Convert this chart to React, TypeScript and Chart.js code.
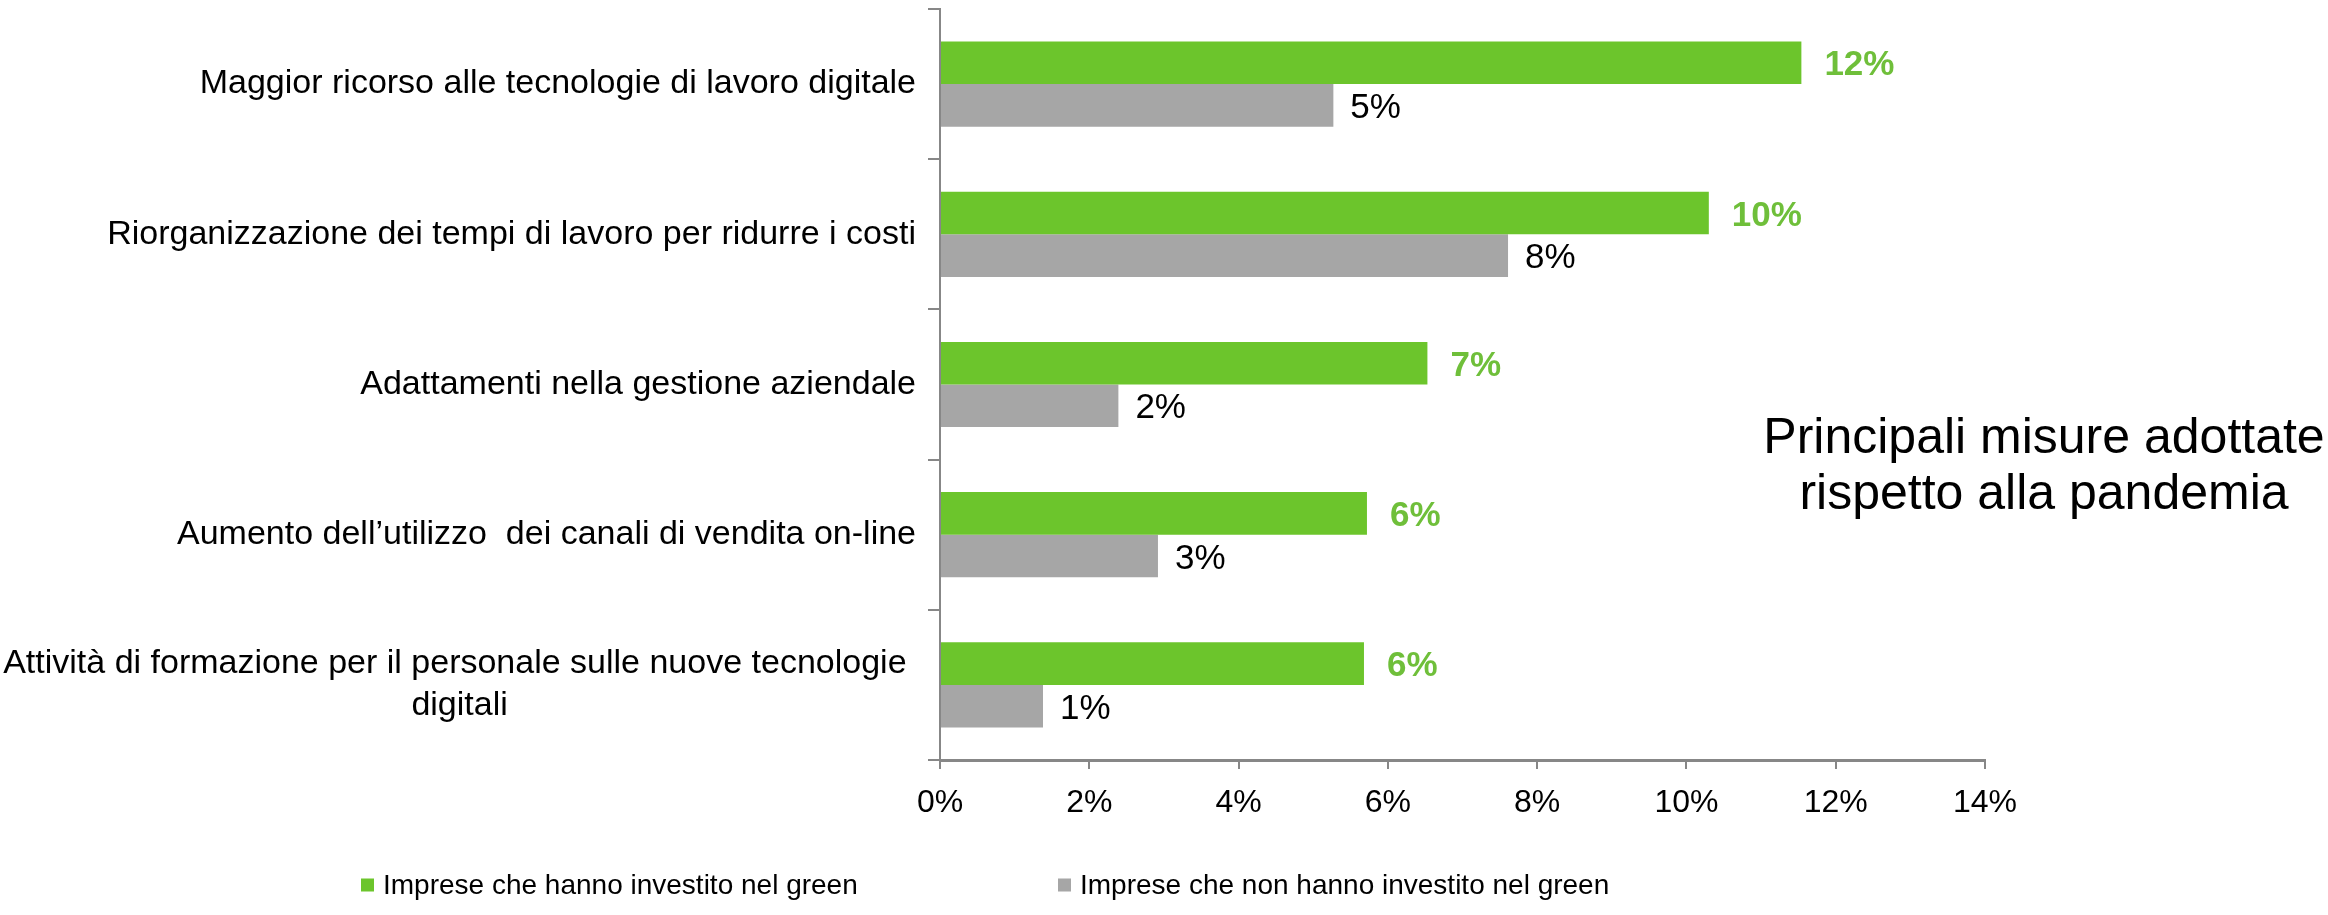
import React, { useEffect, useRef } from "react";
import { Chart, registerables } from "chart.js";

Chart.register(...registerables);

// ---- data ----
const categories: string[][] = [
  ["Maggior ricorso alle tecnologie di lavoro digitale"],
  ["Riorganizzazione dei tempi di lavoro per ridurre i costi"],
  ["Adattamenti nella gestione aziendale"],
  ["Aumento dell\u2019utilizzo  dei canali di vendita on-line"],
  ["Attivit\u00e0 di formazione per il personale sulle nuove tecnologie ", "digitali"],
];
const seriesNames = [
  "Imprese che hanno investito nel green",
  "Imprese che non hanno investito nel green",
];
const greenValues = [11.54, 10.3, 6.53, 5.72, 5.68];
const grayValues = [5.27, 7.61, 2.39, 2.92, 1.38];
const xMin = 0;
const xMax = 14;
const xStep = 2;
const sideTitle = ["Principali misure adottate", "rispetto alla pandemia"];

// ---- styles ----
const GREEN = "#6cc52c";
const GREEN_LABEL = "#6fbf3a";
const GRAY = "#a6a6a6";
const AXIS = "#878787";
const FONT = '"Liberation Sans", Arial, sans-serif';
const CAT_SIZE = 34;
const TICK_SIZE = 32;
const VALUE_SIZE = 35;
const LEGEND_SIZE = 28;
const LEGEND_ITEM_X = [361, 1058];
const LEGEND_Y = 885;

const yLabelPlugin = {
  id: "yLabelPlugin",
  afterDraw(chart: any) {
    const y = chart.scales.y;
    const ctx = chart.ctx as CanvasRenderingContext2D;
    ctx.save();
    ctx.font = `${CAT_SIZE}px ${FONT}`;
    ctx.fillStyle = "#000";
    ctx.textBaseline = "middle";
    ctx.textAlign = "center";
    const right = y.right - 24;
    const lineH = 42;
    categories.forEach((lines, i) => {
      const cy = y.getPixelForValue(i);
      const w = Math.max(...lines.map((l) => ctx.measureText(l).width));
      const cx = right - w / 2;
      lines.forEach((l, j) => {
        ctx.fillText(l.trim(), cx + (l.length !== l.trimEnd().length ? -ctx.measureText(" ").width / 2 : 0), cy + (j - (lines.length - 1) / 2) * lineH);
      });
    });
    ctx.restore();
  },
};

const valueLabelPlugin = {
  id: "valueLabelPlugin",
  afterDatasetsDraw(chart: any) {
    const ctx = chart.ctx as CanvasRenderingContext2D;
    ctx.save();
    ctx.textBaseline = "middle";
    ctx.textAlign = "left";
    chart.data.datasets.forEach((ds: any, di: number) => {
      const meta = chart.getDatasetMeta(di);
      const isGreen = di === 0;
      ctx.font = `${isGreen ? "bold " : ""}${VALUE_SIZE}px ${FONT}`;
      ctx.fillStyle = isGreen ? GREEN_LABEL : "#000";
      meta.data.forEach((bar: any, i: number) => {
        const v = ds.data[i] as number;
        ctx.fillText(`${Math.round(v)}%`, bar.x + (isGreen ? 23 : 17), bar.y + 3);
      });
    });
    ctx.restore();
  },
};

const legendPlugin = {
  id: "customLegend",
  afterDraw(chart: any) {
    const ctx = chart.ctx as CanvasRenderingContext2D;
    ctx.save();
    ctx.font = `${LEGEND_SIZE}px ${FONT}`;
    ctx.textBaseline = "middle";
    ctx.textAlign = "left";
    const box = 13;
    const boxGap = 9;
    chart.data.datasets.forEach((ds: any, i: number) => {
      const x = LEGEND_ITEM_X[i];
      ctx.fillStyle = ds.backgroundColor;
      ctx.fillRect(x, LEGEND_Y - box / 2, box, box);
      ctx.fillStyle = "#000";
      ctx.fillText(ds.label, x + box + boxGap, LEGEND_Y + 1);
    });
    ctx.restore();
  },
};

export default function App() {
  const canvasRef = useRef<HTMLCanvasElement | null>(null);

  useEffect(() => {
    document.body.style.margin = "0";
    const canvas = canvasRef.current;
    if (!canvas) return;
    const chart = new Chart(canvas, {
      type: "bar",
      data: {
        labels: categories.map((c) => c.join(" ").trim()),
        datasets: [
          {
            label: seriesNames[0],
            data: greenValues,
            backgroundColor: GREEN,
            borderWidth: 0,
            categoryPercentage: 0.567,
            barPercentage: 1,
          },
          {
            label: seriesNames[1],
            data: grayValues,
            backgroundColor: GRAY,
            borderWidth: 0,
            categoryPercentage: 0.567,
            barPercentage: 1,
          },
        ],
      },
      options: {
        indexAxis: "y",
        responsive: false,
        animation: false,
        devicePixelRatio: 1,
        layout: { padding: { left: 0, right: 343, top: 9, bottom: 0 } },
        plugins: {
          legend: { display: false },
          tooltip: { enabled: false },
          title: { display: false },
        },
        scales: {
          x: {
            type: "linear",
            position: "bottom",
            min: xMin,
            max: xMax,
            ticks: {
              stepSize: xStep,
              callback: (v: any) => `${v}%`,
              color: "#000",
              font: { family: FONT, size: TICK_SIZE },
              padding: 15,
              maxRotation: 0,
            },
            grid: {
              drawOnChartArea: false,
              drawTicks: true,
              tickLength: 9,
              color: AXIS,
              lineWidth: 2,
            },
            border: { display: true, color: AXIS, width: 3 },
            afterFit: (s: any) => {
              s.height = 155;
              s.paddingLeft = 0;
              s.paddingRight = 0;
            },
          },
          y: {
            type: "category",
            ticks: { display: false },
            grid: {
              drawOnChartArea: false,
              drawTicks: true,
              tickLength: 12,
              color: AXIS,
              lineWidth: 2,
              offset: true,
            },
            border: { display: true, color: AXIS, width: 2 },
            afterFit: (s: any) => {
              s.width = 940;
              s.paddingTop = 0;
              s.paddingBottom = 0;
            },
          },
        },
      } as any,
      plugins: [yLabelPlugin, valueLabelPlugin, legendPlugin],
    });
    return () => chart.destroy();
  }, []);

  return (
    <div style={{ position: "relative", width: 2328, height: 915, background: "#fff" }}>
      <canvas ref={canvasRef} width={2328} height={915} style={{ display: "block", width: 2328, height: 915 }} />
      <div
        style={{
          position: "absolute",
          left: 2044,
          top: 408,
          transform: "translateX(-50%)",
          fontFamily: FONT,
          fontSize: 50,
          lineHeight: "56px",
          textAlign: "center",
          whiteSpace: "nowrap",
          color: "#000",
        }}
      >
        {sideTitle.map((t, i) => (
          <div key={i}>{t}</div>
        ))}
      </div>
    </div>
  );
}
